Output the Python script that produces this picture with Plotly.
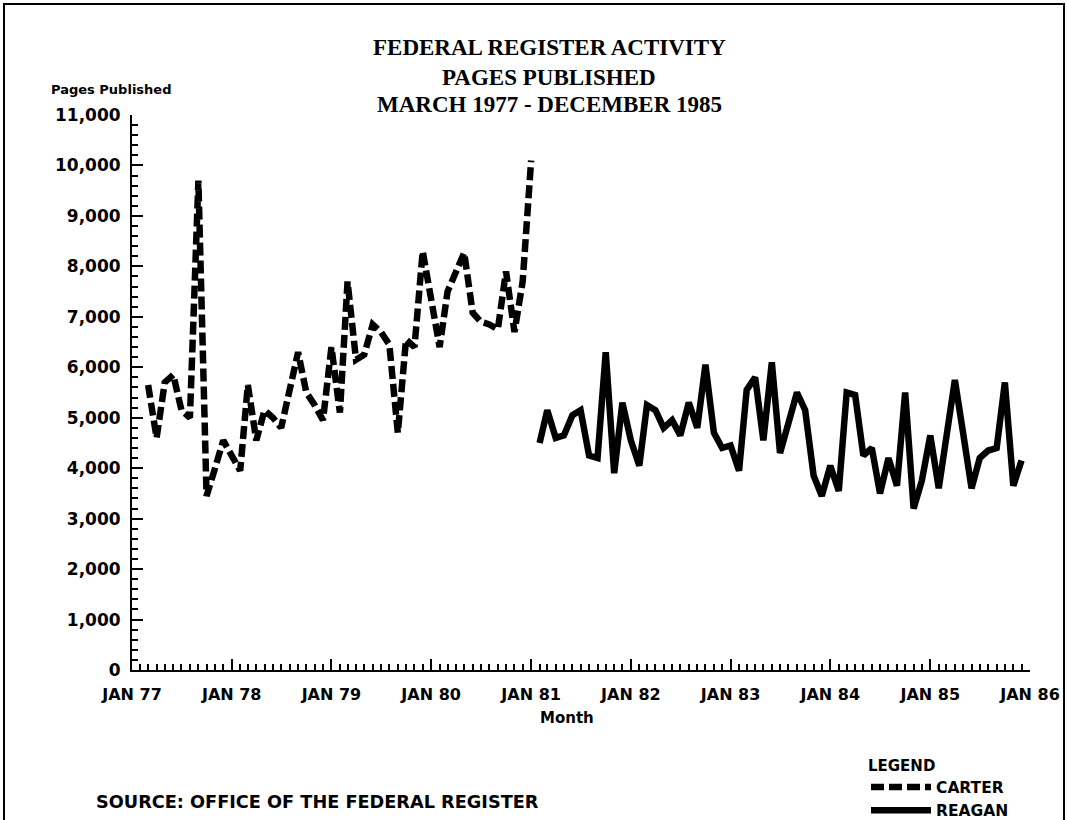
import plotly.graph_objects as go
import pandas as pd

# ---- data (pages published per month) ----
carter_start = "1977-03-01"
carter_pages = [5650, 4600, 5700, 5850, 5150, 5000, 9700, 3450, 4000, 4550,
                4250, 3950, 5650, 4550, 5150, 5000, 4800, 5550, 6300, 5500, 5250, 4950,
                6400, 5100, 7700, 6150, 6250, 6850, 6700, 6450, 4700, 6550, 6400, 8300,
                7400, 6400, 7500, 7900, 8270, 7080, 6900, 6850, 6750, 7900, 6700, 7700,
                10100]
reagan_start = "1981-02-01"
reagan_pages = [4500, 5150, 4600, 4650, 5050, 5150, 4250, 4200, 6300, 3900, 5300,
                4550, 4050, 5250, 5150, 4800, 4950, 4650, 5300, 4800, 6050, 4700, 4400,
                4450, 3950, 5550, 5800, 4550, 6100, 4300, 4900, 5500, 5150, 3850, 3450,
                4050, 3550, 5500, 5450, 4250, 4400, 3500, 4200, 3650, 5500, 3200, 3750,
                4650, 3600, 4550, 5750, 4700, 3600, 4200, 4350, 4400, 5700, 3650, 4150]
year_ticks = ["1977-01-01", "1978-01-01", "1979-01-01", "1980-01-01", "1981-01-01",
              "1982-01-01", "1983-01-01", "1984-01-01", "1985-01-01", "1986-01-01"]
year_labels = ["JAN 77", "JAN 78", "JAN 79", "JAN 80", "JAN 81",
               "JAN 82", "JAN 83", "JAN 84", "JAN 85", "JAN 86"]
title_lines = ["FEDERAL REGISTER ACTIVITY", "PAGES PUBLISHED", "MARCH 1977 - DECEMBER 1985"]

carter_months = pd.date_range(carter_start, periods=len(carter_pages), freq="MS")
reagan_months = pd.date_range(reagan_start, periods=len(reagan_pages), freq="MS")

SANS = "DejaVu Sans"
SERIF = "Liberation Serif"
FIG_W, FIG_H = 1067, 820

fig = go.Figure()
fig.add_trace(go.Scatter(x=carter_months, y=carter_pages, mode="lines", name="CARTER",
                         line=dict(color="black", width=6.5, dash="13px,5px")))
fig.add_trace(go.Scatter(x=reagan_months, y=reagan_pages, mode="lines", name="REAGAN",
                         line=dict(color="black", width=6.5)))

fig.update_layout(
    width=FIG_W, height=FIG_H,
    margin=dict(l=132, r=37, t=115, b=150, autoexpand=False),
    paper_bgcolor="white", plot_bgcolor="white",
    font=dict(family=SANS, color="black", size=15),
    showlegend=True,
    legend=dict(xref="container", yref="container",
                x=866 / FIG_W, xanchor="left", y=1 - 751 / FIG_H, yanchor="top",
                title=dict(text="LEGEND", font=dict(size=15, family=SANS, weight="bold")),
                font=dict(size=15.5, family=SANS, weight="bold"), itemwidth=60,
                tracegroupgap=0, bgcolor="rgba(0,0,0,0)", borderwidth=0),
)

fig.update_xaxes(
    type="date", range=["1977-01-01", "1986-01-01"], automargin=False,
    tickvals=year_ticks, ticktext=year_labels,
    showline=True, linecolor="black", linewidth=2, mirror=False,
    ticks="inside", ticklen=11, tickwidth=2, tickcolor="black",
    minor=dict(dtick="M1", tick0="1977-01-01", ticks="inside", ticklen=6,
               tickwidth=1.5, tickcolor="black", showgrid=False),
    showgrid=False, zeroline=False,
    tickfont=dict(size=16, family=SANS, weight="bold"), ticklabelstandoff=9,
)
fig.update_yaxes(
    range=[0, 11000], dtick=1000, tick0=0, tickformat=",d", automargin=False,
    showline=True, linecolor="black", linewidth=2,
    ticks="inside", ticklen=11, tickwidth=2, tickcolor="black",
    minor=dict(dtick=200, ticks="inside", ticklen=6, tickwidth=1.5,
               tickcolor="black", showgrid=False),
    showgrid=False, zeroline=False,
    tickfont=dict(size=17, family=SANS, weight="bold"), ticklabelstandoff=6,
)

W, X0 = 898.0, 132.0
H, Y0 = 555.0, 670.0
def px(p):
    return (p - X0) / W
def py(q):
    return (Y0 - q) / H

for line_text, yc in zip(title_lines, [48, 77, 105]):
    fig.add_annotation(text="<b>" + line_text + "</b>",
                       xref="paper", yref="paper", x=px(549), y=py(yc), showarrow=False,
                       xanchor="center", yanchor="middle",
                       font=dict(family=SERIF, size=23, color="black"))
fig.add_annotation(text="<b>Pages Published</b>", xref="paper", yref="paper",
                   x=px(49), y=py(89), showarrow=False, xanchor="left", yanchor="middle",
                   font=dict(family=SANS, size=13))
fig.add_annotation(text="<b>Month</b>", xref="paper", yref="paper",
                   x=px(567), y=py(718), showarrow=False, xanchor="center", yanchor="middle",
                   font=dict(family=SANS, size=15))
fig.add_annotation(text="<b>SOURCE: OFFICE OF THE FEDERAL REGISTER</b>", xref="paper", yref="paper",
                   x=px(94), y=py(802), showarrow=False, xanchor="left", yanchor="middle",
                   font=dict(family=SANS, size=17.7))

# page border
fig.add_shape(type="rect", xref="paper", yref="paper",
              x0=px(4), x1=px(1064), y0=py(830), y1=py(4),
              line=dict(color="black", width=2))

fig.write_html("out.html", config={"displayModeBar": False},
               post_script="document.body.style.margin='0';document.body.style.overflow='hidden';")
